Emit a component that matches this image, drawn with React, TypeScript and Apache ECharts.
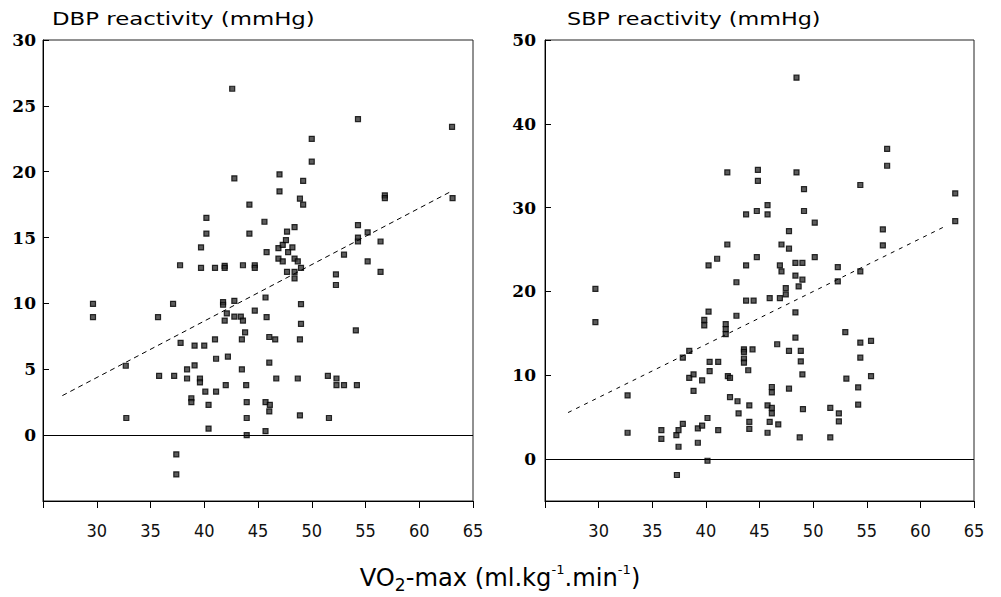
import React, { useEffect, useRef } from "react";
import * as echarts from "echarts";

// DBP reactivity (mmHg) vs VO2-max
const dbpPoints: number[][] = [
  [29.65, 9.97], [29.65, 8.96], [32.7, 5.27], [32.75, 1.3], [35.7, 8.96], [35.8, 4.5], [37.1, 9.97], [37.2, 4.5],
  [37.4, -1.46], [37.4, -2.98], [37.75, 12.9], [37.8, 7.0], [38.4, 5.0], [38.4, 4.3], [38.8, 2.8], [38.8, 2.5],
  [39.1, 6.8], [39.1, 5.3], [39.6, 4.3], [39.6, 4.0], [39.7, 14.25], [39.7, 12.7], [40.0, 6.8], [40.1, 3.3],
  [40.2, 16.5], [40.2, 15.3], [40.4, 2.3], [40.4, 0.5], [41.0, 12.7], [41.0, 7.27], [41.1, 5.8], [41.1, 3.3],
  [41.75, 10.1], [41.75, 9.9], [41.9, 12.85], [41.9, 12.7], [41.9, 8.7], [42.0, 3.8], [42.1, 9.24], [42.2, 5.96],
  [42.6, 26.3], [42.8, 19.5], [42.8, 10.2], [42.8, 9.0], [43.4, 9.0], [43.5, 7.27], [43.5, 5.0], [43.6, 12.9],
  [43.6, 8.7], [43.8, 7.8], [43.9, 3.8], [43.95, 2.5], [43.95, 1.3], [43.95, 0.0], [44.2, 17.5], [44.2, 15.3],
  [44.7, 12.9], [44.7, 12.7], [44.7, 9.45], [45.6, 16.2], [45.7, 10.45], [45.7, 2.5], [45.7, 0.3], [45.8, 13.9],
  [45.8, 8.96], [46.05, 7.45], [46.05, 5.5], [46.05, 1.8], [46.1, 2.3], [46.6, 7.27], [46.7, 4.3], [46.9, 14.2],
  [46.9, 13.4], [47.0, 19.8], [47.0, 18.5], [47.3, 14.45], [47.3, 13.2], [47.6, 14.8], [47.7, 15.45], [47.7, 12.4],
  [47.8, 13.9], [48.2, 14.25], [48.4, 15.8], [48.4, 13.4], [48.4, 12.4], [48.4, 11.9], [48.7, 13.2], [48.7, 4.3],
  [48.9, 17.95], [48.9, 7.27], [48.9, 1.5], [49.0, 12.7], [49.0, 9.95], [49.0, 8.45], [49.2, 19.3], [49.2, 17.5],
  [50.0, 22.5], [50.0, 20.76], [51.5, 4.5], [51.6, 1.3], [52.25, 12.2], [52.25, 11.4], [52.3, 4.3], [52.3, 3.8],
  [53.0, 13.7], [53.0, 3.8], [54.1, 7.95], [54.2, 3.8], [54.3, 24.0], [54.3, 15.95], [54.3, 15.0], [54.3, 14.7],
  [55.2, 15.4], [55.2, 13.2], [56.4, 14.7], [56.4, 12.4], [56.8, 18.2], [56.8, 18.0], [63.05, 23.4], [63.1, 18.0],
];

// SBP reactivity (mmHg) vs VO2-max
const sbpPoints: number[][] = [
  [29.7, 20.3], [29.7, 16.35], [32.7, 7.6], [32.7, 3.14], [35.85, 3.46], [35.85, 2.4], [37.25, 2.86], [37.3, -1.9],
  [37.45, 3.46], [37.45, 1.47], [37.85, 12.1], [37.85, 4.2], [38.45, 12.9], [38.45, 9.7], [38.85, 10.1], [38.85, 8.15],
  [39.25, 3.66], [39.25, 1.95], [39.65, 9.4], [39.65, 4.0], [39.85, 16.6], [39.85, 15.95], [40.15, 4.9], [40.15, -0.2],
  [40.25, 23.1], [40.25, 17.6], [40.35, 11.6], [40.35, 10.5], [41.05, 23.9], [41.15, 11.6], [41.15, 3.46], [41.85, 16.1],
  [41.85, 15.5], [41.85, 14.9], [42.0, 34.2], [42.0, 25.6], [42.05, 9.9], [42.25, 9.7], [42.25, 7.4], [42.85, 21.1],
  [42.85, 17.1], [42.95, 6.9], [43.05, 5.45], [43.55, 13.1], [43.55, 12.8], [43.55, 12.0], [43.55, 11.5], [43.75, 29.2],
  [43.75, 23.1], [43.75, 18.9], [43.95, 10.6], [44.05, 6.4], [44.05, 4.45], [44.05, 3.6], [44.35, 13.1], [44.45, 18.9],
  [44.75, 29.6], [44.75, 24.1], [44.85, 34.5], [44.85, 33.2], [45.75, 30.3], [45.75, 29.2], [45.75, 6.4], [45.75, 3.14],
  [45.95, 19.2], [45.95, 4.45], [46.15, 8.6], [46.15, 7.95], [46.15, 6.1], [46.15, 5.45], [46.65, 13.7], [46.75, 4.14],
  [46.9, 23.1], [46.9, 19.2], [47.05, 25.6], [47.05, 22.4], [47.45, 20.4], [47.45, 19.65], [47.75, 27.2], [47.75, 25.1],
  [47.75, 12.9], [47.75, 8.4], [48.35, 23.4], [48.35, 21.9], [48.35, 17.5], [48.35, 14.5], [48.45, 45.5], [48.45, 34.2],
  [48.65, 20.6], [48.75, 2.6], [48.85, 12.9], [48.85, 11.65], [49.0, 23.4], [49.0, 21.4], [49.0, 10.1], [49.05, 5.97],
  [49.15, 32.2], [49.15, 29.6], [50.15, 28.2], [50.15, 24.1], [51.6, 6.1], [51.6, 2.6], [52.3, 22.9], [52.3, 21.2],
  [52.4, 5.45], [52.4, 4.5], [53.0, 15.15], [53.1, 9.6], [54.2, 8.56], [54.2, 6.5], [54.4, 32.7], [54.4, 22.4],
  [54.4, 13.9], [54.4, 12.1], [55.4, 14.1], [55.4, 9.9], [56.5, 27.4], [56.5, 25.5], [56.9, 37.0], [56.9, 35.0],
  [63.25, 31.7], [63.25, 28.4],
];

// regression lines (end points)
const dbpFit: number[][] = [[26.8, 3.0], [63.07, 18.55]];
const sbpFit: number[][] = [[27.15, 5.55], [62.2, 27.7]];

const xTicks = [25, 30, 35, 40, 45, 50, 55, 60, 65];
const dbpTicks = [-5, 0, 5, 10, 15, 20, 25, 30];
const sbpTicks = [0, 10, 20, 30, 40, 50];

const titles = ["DBP reactivity (mmHg)", "SBP reactivity (mmHg)"];

const X_FONT = "'Liberation Sans Narrow', 'DejaVu Sans Condensed', 'Liberation Sans', sans-serif";
const Y_FONT = "'DejaVu Serif', 'Liberation Serif', serif";

export default function App() {
  const ref = useRef<HTMLDivElement>(null);

  useEffect(() => {
    if (!ref.current) return;
    const chart = echarts.init(ref.current, undefined, { renderer: "svg" });

    const xAxisBase = (gridIndex: number) => ({
      type: "value" as const,
      gridIndex,
      min: xTicks[0],
      max: xTicks[xTicks.length - 1],
      interval: 5,
      axisLine: { show: true, onZero: false, lineStyle: { color: "#000", width: 1 } },
      axisTick: { show: true, inside: false, length: 7, lineStyle: { color: "#000", width: 1 } },
      axisLabel: {
        margin: 20,
        color: "#111",
        fontFamily: X_FONT,
        fontSize: 18,
        formatter: (v: number) => (v === 25 ? "" : String(v)),
      },
      splitLine: { show: false },
    });

    const dot = {
      symbol: "rect",
      symbolSize: 5,
      itemStyle: { color: "#333", borderColor: "#000", borderWidth: 1.2 },
    };

    chart.setOption({
      animation: false,
      backgroundColor: "#fff",
      grid: [
        { left: 43, top: 40, width: 430, height: 461, show: true, borderColor: "#222", borderWidth: 1 },
        { left: 545, top: 40, width: 429, height: 461, show: true, borderColor: "#222", borderWidth: 1 },
      ],
      xAxis: [xAxisBase(0), xAxisBase(1)],
      yAxis: [
        {
          type: "value",
          gridIndex: 0,
          min: dbpTicks[0],
          max: dbpTicks[dbpTicks.length - 1],
          interval: 5,
          axisLine: { show: true, onZero: false, lineStyle: { color: "#000", width: 1 } },
          axisTick: { show: true, inside: true, length: 6, lineStyle: { color: "#000" } },
          axisLabel: {
            margin: 7,
            color: "#000",
            fontFamily: Y_FONT,
            fontWeight: "bold",
            fontSize: 17,
            formatter: (v: number) => (v < 0 ? "" : String(v)),
          },
          splitLine: { show: false },
        },
        {
          type: "value",
          gridIndex: 1,
          min: -5,
          max: sbpTicks[sbpTicks.length - 1],
          interval: 5,
          axisLine: { show: true, onZero: false, lineStyle: { color: "#000", width: 1 } },
          axisTick: { show: true, inside: true, length: 6, lineStyle: { color: "#000" }, customValues: sbpTicks },
          axisLabel: {
            margin: 9,
            color: "#000",
            fontFamily: Y_FONT,
            fontWeight: "bold",
            fontSize: 17,
            customValues: sbpTicks,
          },
          splitLine: { show: false },
        },
      ],
      series: [
        {
          type: "scatter",
          xAxisIndex: 0,
          yAxisIndex: 0,
          data: dbpPoints,
          ...dot,
          markLine: {
            silent: true,
            symbol: "none",
            label: { show: false },
            lineStyle: { color: "#000", type: "solid", width: 1 },
            data: [{ yAxis: 0 }],
          },
        },
        {
          type: "scatter",
          xAxisIndex: 1,
          yAxisIndex: 1,
          data: sbpPoints,
          ...dot,
          markLine: {
            silent: true,
            symbol: "none",
            label: { show: false },
            lineStyle: { color: "#000", type: "solid", width: 1 },
            data: [{ yAxis: 0 }],
          },
        },
        {
          type: "line",
          xAxisIndex: 0,
          yAxisIndex: 0,
          data: dbpFit,
          showSymbol: false,
          lineStyle: { color: "#000", width: 1, type: [5, 4] },
        },
        {
          type: "line",
          xAxisIndex: 1,
          yAxisIndex: 1,
          data: sbpFit,
          showSymbol: false,
          lineStyle: { color: "#000", width: 1, type: [4, 5] },
        },
      ],
      graphic: [
        {
          type: "text",
          x: 52,
          y: 10,
          scaleX: 1.27,
          style: {
            text: titles[0],
            font: "normal 18px 'DejaVu Sans', sans-serif",
            fill: "#000",
            textVerticalAlign: "top",
          },
        },
        {
          type: "text",
          x: 567,
          y: 10,
          scaleX: 1.24,
          style: {
            text: titles[1],
            font: "normal 18px 'DejaVu Sans', sans-serif",
            fill: "#000",
            textVerticalAlign: "top",
          },
        },
        {
          type: "text",
          x: 500,
          y: 578,
          scaleX: 1.12,
          style: {
            text: "{n|VO}{sub|2}{n|-max (ml.kg}{sup|-1}{n|.min}{sup|-1}{n|)}",
            align: "center",
            verticalAlign: "middle",
            fill: "#000",
            rich: {
              n: { fontSize: 24, fontFamily: X_FONT, lineHeight: 30, verticalAlign: "middle" },
              sub: { fontSize: 17, fontFamily: X_FONT, lineHeight: 13, verticalAlign: "bottom" },
              sup: { fontSize: 13, fontFamily: X_FONT, lineHeight: 10, verticalAlign: "top" },
            },
          },
        },
      ],
    });

    return () => chart.dispose();
  }, []);

  return (
    <div
      ref={ref}
      style={{ position: "absolute", left: 0, top: 0, width: 1001, height: 597, background: "#fff" }}
    />
  );
}
